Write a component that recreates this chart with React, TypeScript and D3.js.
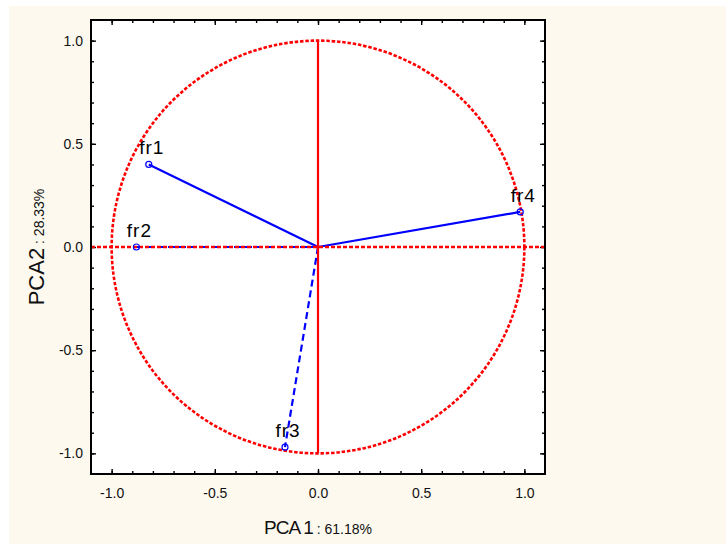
import React, { useEffect, useRef } from "react";
import * as d3 from "d3";

// Variable loadings on the first two principal components
const variables = ["fr1", "fr2", "fr3", "fr4"];
const pc1Loadings = [-0.82, -0.88, -0.16, 0.98];
const pc2Loadings = [0.4, 0.0, -0.97, 0.17];
const dashedVars = ["fr2", "fr3"];

const majorTicks = [-1.0, -0.5, 0.0, 0.5, 1.0];
const tickLabels = ["-1.0", "-0.5", "0.0", "0.5", "1.0"];
const minorTicks = d3.range(-10, 11).map(i => i / 10);
const xTitle = ["PCA 1", " : 61.18%"];
const yTitle = ["PCA2", " : 28.33%"];

export default function App() {
  const chartRef = useRef<SVGSVGElement>(null);

  useEffect(() => {
    const svg = d3.select(chartRef.current);
    svg.selectAll("*").remove();

    const width = 726;
    const height = 545;
    const left = 91;
    const right = 545;
    const top = 20;
    const bottom = 474;
    const font = "Arial, 'Liberation Sans', sans-serif";

    // background panel
    svg
      .append("rect")
      .attr("x", 9)
      .attr("y", 6)
      .attr("width", width - 9)
      .attr("height", height - 7)
      .attr("fill", "#fdf9ee");
    svg
      .append("rect")
      .attr("x", left)
      .attr("y", top)
      .attr("width", right - left)
      .attr("height", bottom - top)
      .attr("fill", "#fff");

    const x = d3.scaleLinear().domain([-1.1, 1.1]).range([left, right]);
    const y = d3.scaleLinear().domain([-1.1, 1.1]).range([bottom, top]);

    // axes: inward ticks on all four sides
    const addAxis = (axis: any, tx: number, ty: number, labels: boolean) => {
      const g = svg
        .append("g")
        .attr("transform", `translate(${tx},${ty})`)
        .call(axis)
        .call((g: any) => g.select(".domain").remove());
      g.selectAll("line").attr("stroke", "#000").attr("stroke-width", 1.4);
      if (labels)
        g.selectAll("text")
          .attr("font-family", font)
          .attr("font-size", 14)
          .attr("fill", "#111");
    };
    const label = (d: any) => tickLabels[majorTicks.indexOf(+d)];
    addAxis(d3.axisBottom(x).tickValues(majorTicks).tickSize(-5).tickPadding(14).tickFormat(label), 0, bottom, true);
    addAxis(d3.axisBottom(x).tickValues(minorTicks).tickSize(-3).tickFormat(() => ""), 0, bottom, false);
    addAxis(d3.axisTop(x).tickValues(majorTicks).tickSize(-5).tickFormat(() => ""), 0, top, false);
    addAxis(d3.axisTop(x).tickValues(minorTicks).tickSize(-3).tickFormat(() => ""), 0, top, false);
    addAxis(d3.axisLeft(y).tickValues(majorTicks).tickSize(-5).tickPadding(8).tickFormat(label), left, 0, true);
    addAxis(d3.axisLeft(y).tickValues(minorTicks).tickSize(-3).tickFormat(() => ""), left, 0, false);
    addAxis(d3.axisRight(y).tickValues(majorTicks).tickSize(-5).tickFormat(() => ""), right, 0, false);
    addAxis(d3.axisRight(y).tickValues(minorTicks).tickSize(-3).tickFormat(() => ""), right, 0, false);

    // loading vectors (drawn under the red reference lines)
    const data = variables.map((name, i) => ({ name, px: pc1Loadings[i], py: pc2Loadings[i] }));
    svg
      .append("g")
      .selectAll("line")
      .data(data)
      .join("line")
      .attr("x1", x(0))
      .attr("y1", y(0))
      .attr("x2", d => x(d.px))
      .attr("y2", d => y(d.py))
      .attr("stroke", "#0000ff")
      .attr("stroke-width", 2.2)
      .attr("stroke-dasharray", d => (dashedVars.includes(d.name) ? "7,4" : null));

    // unit circle and reference lines
    svg
      .append("circle")
      .attr("cx", x(0))
      .attr("cy", y(0))
      .attr("r", x(1) - x(0))
      .attr("fill", "none")
      .attr("stroke", "#ff0000")
      .attr("stroke-width", 2.6)
      .attr("stroke-dasharray", "3.5,1.8");
    svg
      .append("line")
      .attr("x1", x(-1.1))
      .attr("x2", x(1.1))
      .attr("y1", y(0))
      .attr("y2", y(0))
      .attr("stroke", "#ff0000")
      .attr("stroke-width", 2.4)
      .attr("stroke-dasharray", "4,2");
    svg
      .append("line")
      .attr("x1", x(0))
      .attr("x2", x(0))
      .attr("y1", y(-1))
      .attr("y2", y(1))
      .attr("stroke", "#ff0000")
      .attr("stroke-width", 2.2);

    // markers and labels
    svg
      .append("g")
      .selectAll("circle")
      .data(data)
      .join("circle")
      .attr("cx", d => x(d.px))
      .attr("cy", d => y(d.py))
      .attr("r", 3)
      .attr("fill", "none")
      .attr("stroke", "#0000ff")
      .attr("stroke-width", 1.2);
    svg
      .append("g")
      .selectAll("text")
      .data(data)
      .join("text")
      .attr("x", d => x(d.px) + 3)
      .attr("y", d => y(d.py) - 10)
      .attr("text-anchor", "middle")
      .attr("font-family", font)
      .attr("font-size", 19)
      .attr("letter-spacing", 1)
      .attr("fill", "#000")
      .text(d => d.name);

    // frame
    svg
      .append("rect")
      .attr("x", left)
      .attr("y", top)
      .attr("width", right - left)
      .attr("height", bottom - top)
      .attr("fill", "none")
      .attr("stroke", "#000")
      .attr("stroke-width", 2);

    // axis titles
    const xt = svg
      .append("text")
      .attr("x", 318)
      .attr("y", 534)
      .attr("text-anchor", "middle")
      .attr("font-family", font)
      .attr("fill", "#111");
    xt.append("tspan").attr("font-size", 19).attr("letter-spacing", -1).text(xTitle[0]);
    xt.append("tspan").attr("font-size", 14).text(xTitle[1]);

    const yt = svg
      .append("text")
      .attr("transform", "translate(44,247) rotate(-90)")
      .attr("text-anchor", "middle")
      .attr("font-family", font)
      .attr("fill", "#111");
    yt.append("tspan").attr("font-size", 22).text(yTitle[0]);
    yt.append("tspan").attr("font-size", 14).text(yTitle[1]);
  }, []);

  return (
    <svg
      ref={chartRef}
      width={726}
      height={545}
      style={{ position: "absolute", left: 0, top: 0, background: "#fff" }}
    />
  );
}
